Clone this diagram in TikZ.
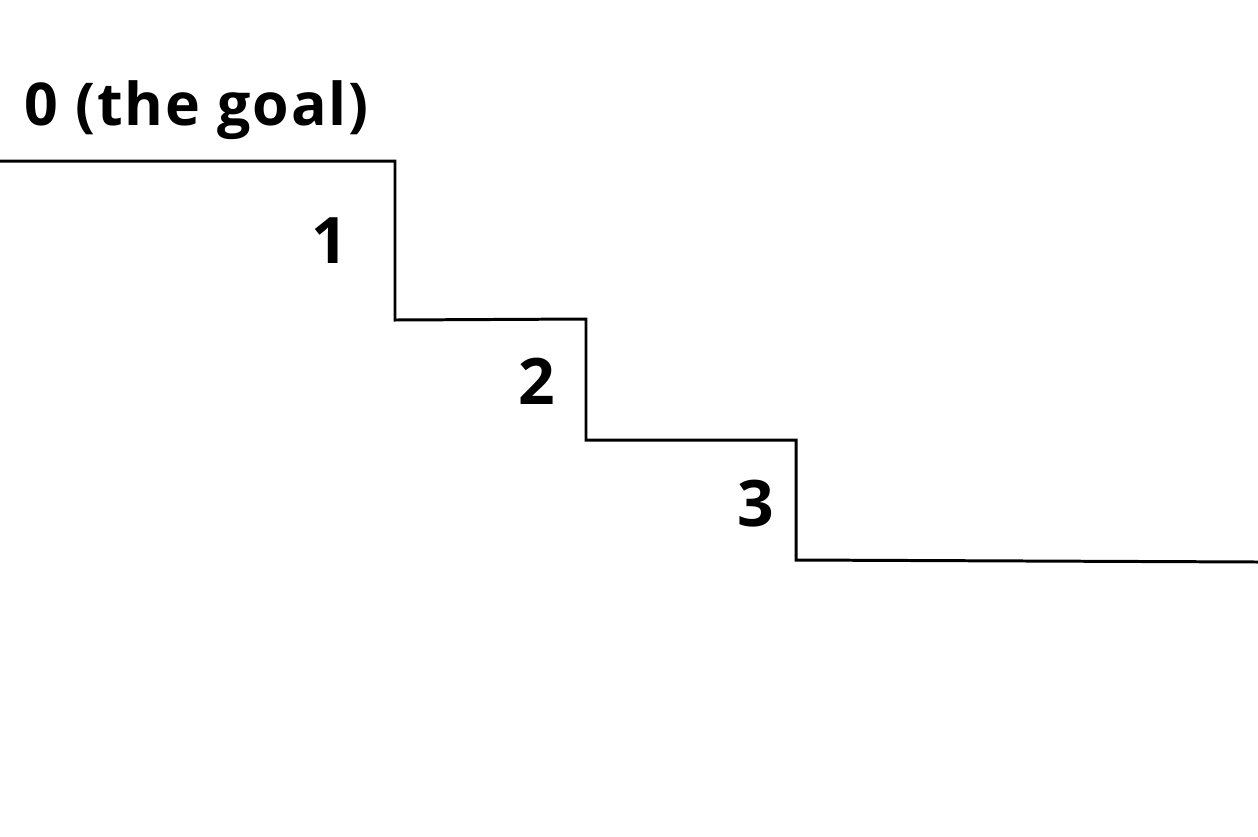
\documentclass[tikz,border=0pt]{standalone}
\usepackage{fontspec}
\setsansfont{Open Sans}
\tikzstyle{stair}=[line width=1.7pt, line join=miter]
\tikzstyle{goallabel}=[font=\sffamily\bfseries\fontsize{33.6}{38}\selectfont\addfontfeature{LetterSpace=3.2}, inner sep=0pt]
\tikzstyle{steplabel}=[font=\sffamily\bfseries\fontsize{36.5}{40}\selectfont, inner sep=0pt]
\begin{document}
\begin{tikzpicture}[x=0.02cm, y=-0.02cm]
\useasboundingbox (0,0) rectangle (1258,836);
% corners of the stairs
\coordinate (s0) at (0,161);
\coordinate (c1) at (395,161);
\coordinate (c2) at (395,320);
\coordinate (c3) at (586,319);
\coordinate (c4) at (586,440);
\coordinate (c5) at (796,440);
\coordinate (c6) at (796,560);
\coordinate (s4) at (1258,562);
% draw stairs
\draw[stair] (s0) -- (c1) -- (c2) -- (c3) -- (c4) -- (c5) -- (c6) -- (s4);
% step labels
\node[goallabel, anchor=base west] (goal) at (24,125) {0 (the goal)};
\node[steplabel, anchor=base] (one) at (330,263) {1};
\node[steplabel, anchor=base] (two) at (537,404) {2};
\node[steplabel, anchor=base] (three) at (756,526) {3};
\end{tikzpicture}
\end{document}
